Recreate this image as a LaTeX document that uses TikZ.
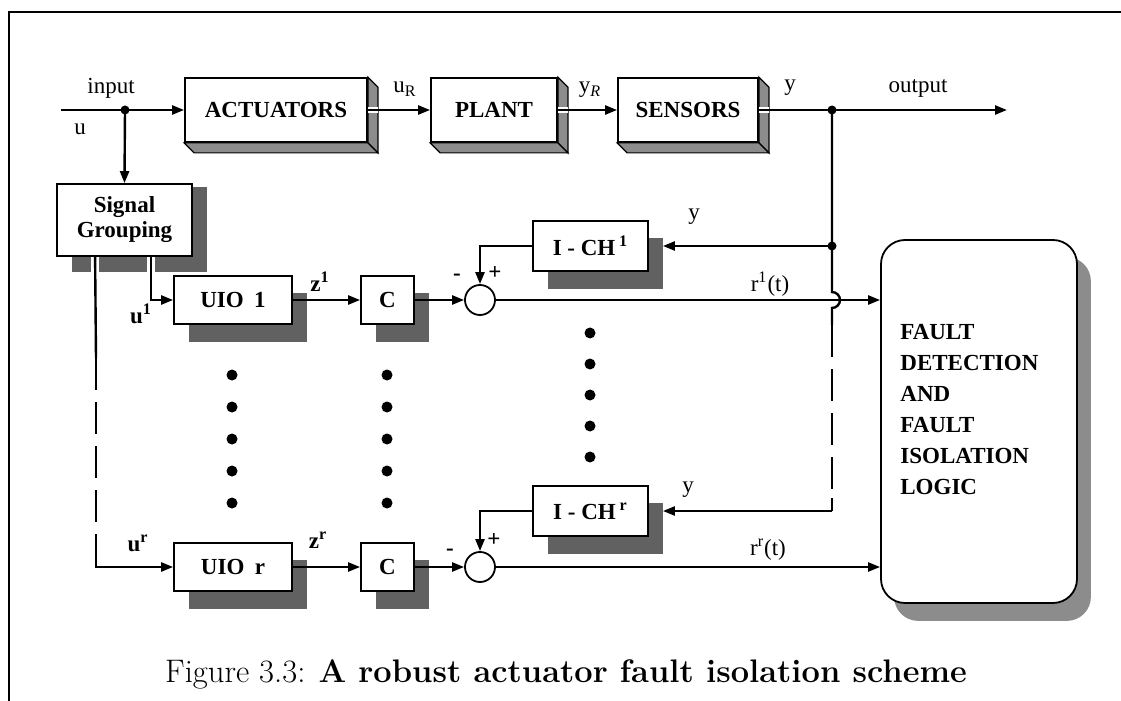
\documentclass[tikz,border=0pt]{standalone}
\usepackage{fontspec}
\newfontfamily\tms{Liberation Serif}
\usetikzlibrary{arrows.meta,calc,backgrounds}
\begin{document}
\begin{tikzpicture}[x=0.5pt,y=-0.5pt,
  box/.style={draw,line width=0.9pt,fill=white,inner sep=0pt,align=center,
    font=\tms\fontsize{11.5}{12.5}\selectfont\bfseries},
  lbl/.style={font=\tms\fontsize{11.5}{13}\selectfont,inner sep=0pt},
  blbl/.style={font=\tms\fontsize{11.5}{13}\selectfont\bfseries,inner sep=0pt},
  conn/.style={line width=1.2pt},
  arr/.style={conn,-{Triangle[length=6pt,width=4.5pt]}},
  shd/.style={fill=black!62},
  bev/.style={fill=black!45,draw=black,line width=0.6pt},
  jdot/.style={circle,fill=black,inner sep=0pt,minimum size=4.5pt},
  edot/.style={circle,fill=black,inner sep=0pt,minimum size=5.5pt},
  sumc/.style={draw,circle,line width=0.9pt,fill=white,minimum size=15pt,inner sep=0pt},
]
\useasboundingbox (0,0) rectangle (1121,701);
\draw[line width=0.9pt] (9,701) -- (9,12) -- (1121,12);

% top row
\node[box,minimum width=91pt,minimum height=32pt] (act) at (276,110) {ACTUATORS};
\node[box,minimum width=63pt,minimum height=32pt] (plant) at (494,110) {PLANT};
\node[box,minimum width=70pt,minimum height=32pt] (sens) at (688,110) {SENSORS};
\foreach \n in {act,plant,sens}{
  \draw[bev] (\n.north east) -- ($(\n.north east)+(10,10)$) -- ($(\n.south east)+(10,10)$) -- (\n.south east) -- cycle;
  \draw[bev] (\n.south west) -- ($(\n.south west)+(10,10)$) -- ($(\n.south east)+(10,10)$) -- (\n.south east) -- cycle;
  \draw[white,line width=3pt] (\n.east) -- ++(10,0);
}

% signal grouping
\node[box,minimum width=67.5pt,minimum height=36pt] (sg) at (124.5,220) {Signal\\Grouping};

% lower blocks
\node[box,minimum width=59pt,minimum height=24pt] (uio1) at (233,300) {UIO\hspace{0.45em}1};
\node[box,minimum width=26.5pt,minimum height=24pt] (c1) at (387.5,300) {C};
\node[sumc] (s1) at (480,300) {};
\node[box,minimum width=57.5pt,minimum height=25pt] (ich1) at (590.5,246) {I - CH\,\textsuperscript{1}};

\node[box,minimum width=59pt,minimum height=24pt] (uior) at (233,567) {UIO\hspace{0.45em}r};
\node[box,minimum width=26.5pt,minimum height=24pt] (cr) at (387.5,567) {C};
\node[sumc] (sr) at (480,567) {};
\node[box,minimum width=57.5pt,minimum height=25pt] (ichr) at (590.5,511) {I - CH\,\textsuperscript{r}};

% fault detection box
\node[draw,line width=0.9pt,fill=white,rounded corners=12pt,minimum width=98pt,minimum height=181.5pt,inner sep=0pt] (fdi) at (979,421.5) {};
\node[font=\tms\fontsize{11.5}{15.5}\selectfont\bfseries,align=left,anchor=west,inner sep=0pt] (fdit) at (900,410)
  {FAULT\\DETECTION\\AND\\FAULT\\ISOLATION\\LOGIC};

\begin{pgfonlayer}{background}
  \fill[shd] ($(sg.north west)+(16,4)$) rectangle ($(sg.south east)+(14,15)$);
  \foreach \n in {uio1,c1,ich1,uior,cr,ichr}{
    \fill[shd] ($(\n.north west)+(16,18)$) rectangle ($(\n.south east)+(14,17)$);
  }
  \fill[black!45,rounded corners=12pt] ($(fdi.north west)+(14,18)$) rectangle ($(fdi.south east)+(13,17)$);
\end{pgfonlayer}

% input
\coordinate (in0) at (61,110);
\coordinate (j1) at (125,110);
\draw[arr] (in0) -- (act.west);
\draw[arr] (j1) -- (sg.north);
\node[jdot] (j1d) at (j1) {};
\node[lbl] (linput) at (111,88) {input};
\node[lbl] (lu) at (80,129) {u};

\draw[arr] (act.east) -- (plant.west);
\draw[arr] (plant.east) -- (sens.west);
\node[lbl] (luR) at (405,89) {u\textsubscript{R}};
\node[lbl] (lyR) at (590,90) {y\textsubscript{\itshape R}};

\coordinate (j2) at (832,110);
\coordinate (out) at (1007,110);
\draw[conn] (sens.east) -- (j2);
\draw[arr] (j2) -- (out);
\node[jdot] (j2d) at (j2) {};
\node[lbl] (ly) at (790,88) {y};
\node[lbl] (loutput) at (918,88) {output};

% signal grouping outputs
\coordinate (sgo1) at ($(sg.south west)+(95,0)$);
\coordinate (sgo2) at ($(sg.south west)+(39,0)$);
\draw[white,line width=4pt] (sgo1) -- ++(0,15);
\draw[white,line width=4pt] (sgo2) -- ++(0,15);
\draw[arr] (sgo1) |- (uio1.west);
\coordinate (dl1) at (96,358);
\coordinate (dl2) at (96,538);
\draw[conn] (sgo2) -- (dl1);
\draw[conn,dash pattern=on 16pt off 6pt] (dl1) -- (dl2);
\draw[arr] (dl2) |- (uior.west);

% row 1
\draw[arr] (uio1.east) -- (c1.west);
\draw[arr] (c1.east) -- (s1.west);
\draw[arr] (s1.east) -- (s1.east -| fdi.west);
\draw[arr] (ich1.west) -| (s1.north);
\node[blbl] (lu1) at (141,314) {u\textsuperscript{1}};
\node[blbl] (lz1) at (320,282) {z\textsuperscript{1}};
\node[blbl] (lm1) at (457,277) {-};
\node[blbl] (lp1) at (495,273) {+};
\node[lbl] (lr1) at (770,284) {r\textsuperscript{1}(t)};

% row r
\draw[arr] (uior.east) -- (cr.west);
\draw[arr] (cr.east) -- (sr.west);
\draw[arr] (sr.east) -- (sr.east -| fdi.west);
\draw[arr] (ichr.west) -| (sr.north);
\node[blbl] (lur) at (138,543) {u\textsuperscript{r}};
\node[blbl] (lzr) at (318,540) {z\textsuperscript{r}};
\node[blbl] (lmr) at (450,552) {-};
\node[blbl] (lpr) at (494,540) {+};
\node[lbl] (lrr) at (768,550) {r\textsuperscript{r}(t)};

% right feedback line
\coordinate (j3) at (832,246);
\coordinate (hop1) at (832,292);
\coordinate (dr1) at (832,325);
\coordinate (dr2) at (832,498);
\coordinate (cr2) at (832,511);
\draw[conn] (j2) -- (j3) -- (hop1) arc(-90:90:8) -- (dr1);
\draw[conn,dash pattern=on 16pt off 6pt] (dr1) -- (dr2);
\draw[conn] (dr2) -- (cr2);
\draw[arr] (j3) -- ($(ich1.east)+(14,0)$);
\draw[arr] (cr2) -- ($(ichr.east)+(14,0)$);
\node[jdot] (j3d) at (j3) {};
\node[lbl] (ly1) at (694,217) {y};
\node[lbl] (lyr) at (688,490) {y};

% ellipsis dots
\foreach \y in {375,407,439,471,503}{
  \node[edot] (du\y) at (232,\y) {};
  \node[edot] (dc\y) at (387,\y) {};
}
\foreach \y in {333,364,395,426,457}{
  \node[edot] (di\y) at (590,\y) {};
}

% caption
\node[font=\fontsize{16.3}{19}\selectfont,inner sep=0pt] (cap) at (566,674)
  {Figure 3.3: \textbf{A robust actuator fault isolation scheme}};
\end{tikzpicture}
\end{document}
